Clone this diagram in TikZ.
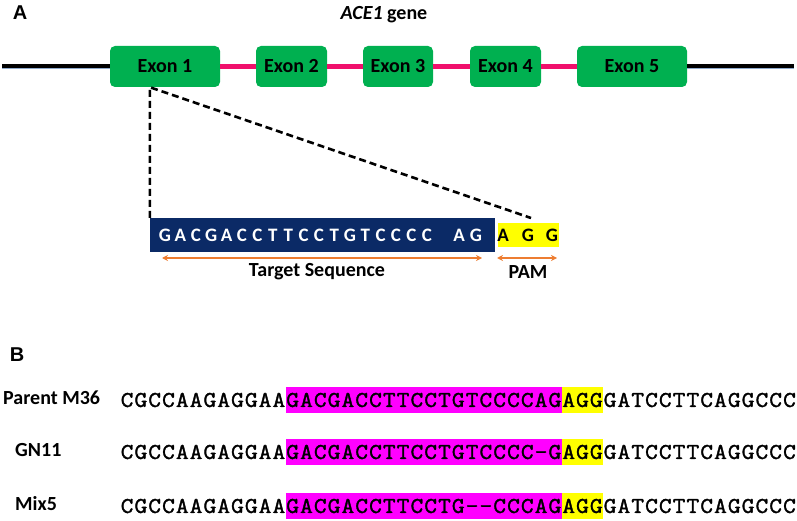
\documentclass[tikz,border=0pt]{standalone}
\usepackage{fontspec}
\setmainfont{Carlito}
\newfontfamily\arialb{Liberation Sans}
\newfontfamily\seqfont[FakeBold=1.6,FakeStretch=1.1]{Latin Modern Mono}
\usetikzlibrary{arrows.meta}
\definecolor{exgreen}{HTML}{00B050}
\definecolor{intpink}{HTML}{F0106C}
\definecolor{lineedge}{HTML}{8FAACC}
\definecolor{navybox}{HTML}{0B2A66}
\definecolor{pamyellow}{HTML}{FFFF00}
\definecolor{hlpink}{HTML}{FF00FF}
\definecolor{arrorange}{HTML}{ED7D31}
\def\seqloop#1{\ifx#1\relax\else\makebox[13.8pt]{#1}\expandafter\seqloop\fi}
\newcommand\seqtxt[1]{\expandafter\seqloop#1\relax}
\tikzset{
  exon/.style={fill=exgreen, rounded corners=5pt, minimum height=41pt, inner sep=0pt,
    font=\bfseries\fontsize{20}{24}\selectfont},
  intron/.style={draw=lineedge, line width=0.5pt, double=intpink, double distance=4.4pt},
  flank/.style={draw=lineedge, line width=0.5pt, double=black, double distance=4pt},
  dashln/.style={line width=2.6pt, dash pattern=on 7pt off 4pt},
  bigletter/.style={font=\arialb\bfseries\fontsize{20}{24}\selectfont},
  title/.style={font=\bfseries\fontsize{20}{24}\selectfont},
  blet/.style={text=white, inner sep=0pt, font=\bfseries\fontsize{19}{22}\selectfont},
  ylet/.style={text=black, inner sep=0pt, font=\bfseries\fontsize{19}{22}\selectfont},
  oarrow/.style={draw=arrorange, line width=1.6pt, {Stealth[length=6pt,width=6pt]}-{Stealth[length=6pt,width=6pt]}},
  rowlabel/.style={anchor=west, inner sep=0pt, font=\bfseries\fontsize{20}{24}\selectfont},
  seq/.style={anchor=west, inner sep=0pt, font=\seqfont\fontsize{22.5}{24}\selectfont},
  hlbox/.style={fill=hlpink, minimum width=276pt, minimum height=26pt, inner sep=0pt},
  pambox/.style={fill=pamyellow, minimum width=41pt, minimum height=26pt, inner sep=0pt},
}
\begin{document}
\begin{tikzpicture}[x=1pt,y=-1pt]
\useasboundingbox (0,0) rectangle (797,521);
% Panel A
\node[bigletter] (labA) at (20,13) {A};
\node[title] (gtitle) at (384,15) {\textit{ACE1} gene};
\node[exon, minimum width=110pt] (e1) at (165,66.5) {Exon 1};
\node[exon, minimum width=71pt] (e2) at (291.5,66.5) {Exon 2};
\node[exon, minimum width=70pt] (e3) at (398,66.5) {Exon 3};
\node[exon, minimum width=71pt] (e4) at (505.5,66.5) {Exon 4};
\node[exon, minimum width=110pt] (e5) at (632,66.5) {Exon 5};
\coordinate (l0) at (2,66.5);
\coordinate (r0) at (794,66.5);
\draw[flank] (l0) -- (e1.west);
\draw[intron] (e1.east) -- (e2.west);
\draw[intron] (e2.east) -- (e3.west);
\draw[intron] (e3.east) -- (e4.west);
\draw[intron] (e4.east) -- (e5.west);
\draw[flank] (e5.east) -- (r0);
% target box
\node[fill=navybox, minimum width=345pt, minimum height=34pt, inner sep=0pt] (tgt) at (322.5,235) {};
\node[fill=pamyellow, minimum width=61pt, minimum height=24pt, inner sep=0pt] (pam) at (528,235) {};
\coordinate (dend) at (531,218);
\draw[dashln] (tgt.north west) -- (tgt.north west |- e1.south) -- (dend);
\foreach \c [count=\i from 0] in {G,A,C,G,A,C,C,T,T,C,C,T,G,T,C,C,C,C}
  \node[blet] (t\i) at (165+\i*15.4,235) {\c};
\node[blet] (t18) at (459,235) {A};
\node[blet] (t19) at (476,235) {G};
\node[ylet] (p0) at (503,235) {A};
\node[ylet] (p1) at (528,235) {G};
\node[ylet] (p2) at (552,235) {G};
\coordinate (ta1) at (162,258);
\coordinate (ta2) at (482,258);
\coordinate (pa1) at (497,258);
\coordinate (pa2) at (557,258);
\draw[oarrow] (ta1) -- (ta2);
\draw[oarrow] (pa1) -- (pa2);
\node[title] (tlab) at (317,272) {Target Sequence};
\node[title] (plab) at (528,272) {PAM};
% Panel B
\node[bigletter] (labB) at (17,355) {B};
\foreach \y/\nm/\lx/\txt/\s in {
  400/r1/3/Parent M36/CGCCAAGAGGAAGACGACCTTCCTGTCCCCAGAGGGATCCTTCAGGCCC,
  452/r2/15/GN11/CGCCAAGAGGAAGACGACCTTCCTGTCCCC-GAGGGATCCTTCAGGCCC,
  506/r3/15/Mix5/CGCCAAGAGGAAGACGACCTTCCTG--CCCAGAGGGATCCTTCAGGCCC}{
  \node[hlbox] (\nm h) at (424,\y) {};
  \node[pambox] (\nm p) at (582.5,\y) {};
  \node[rowlabel] (\nm l) at (\lx,\y-2) {\txt};
  \node[seq] (\nm s) at (120,\y) {\seqtxt{\s}};
}
\end{tikzpicture}
\end{document}
